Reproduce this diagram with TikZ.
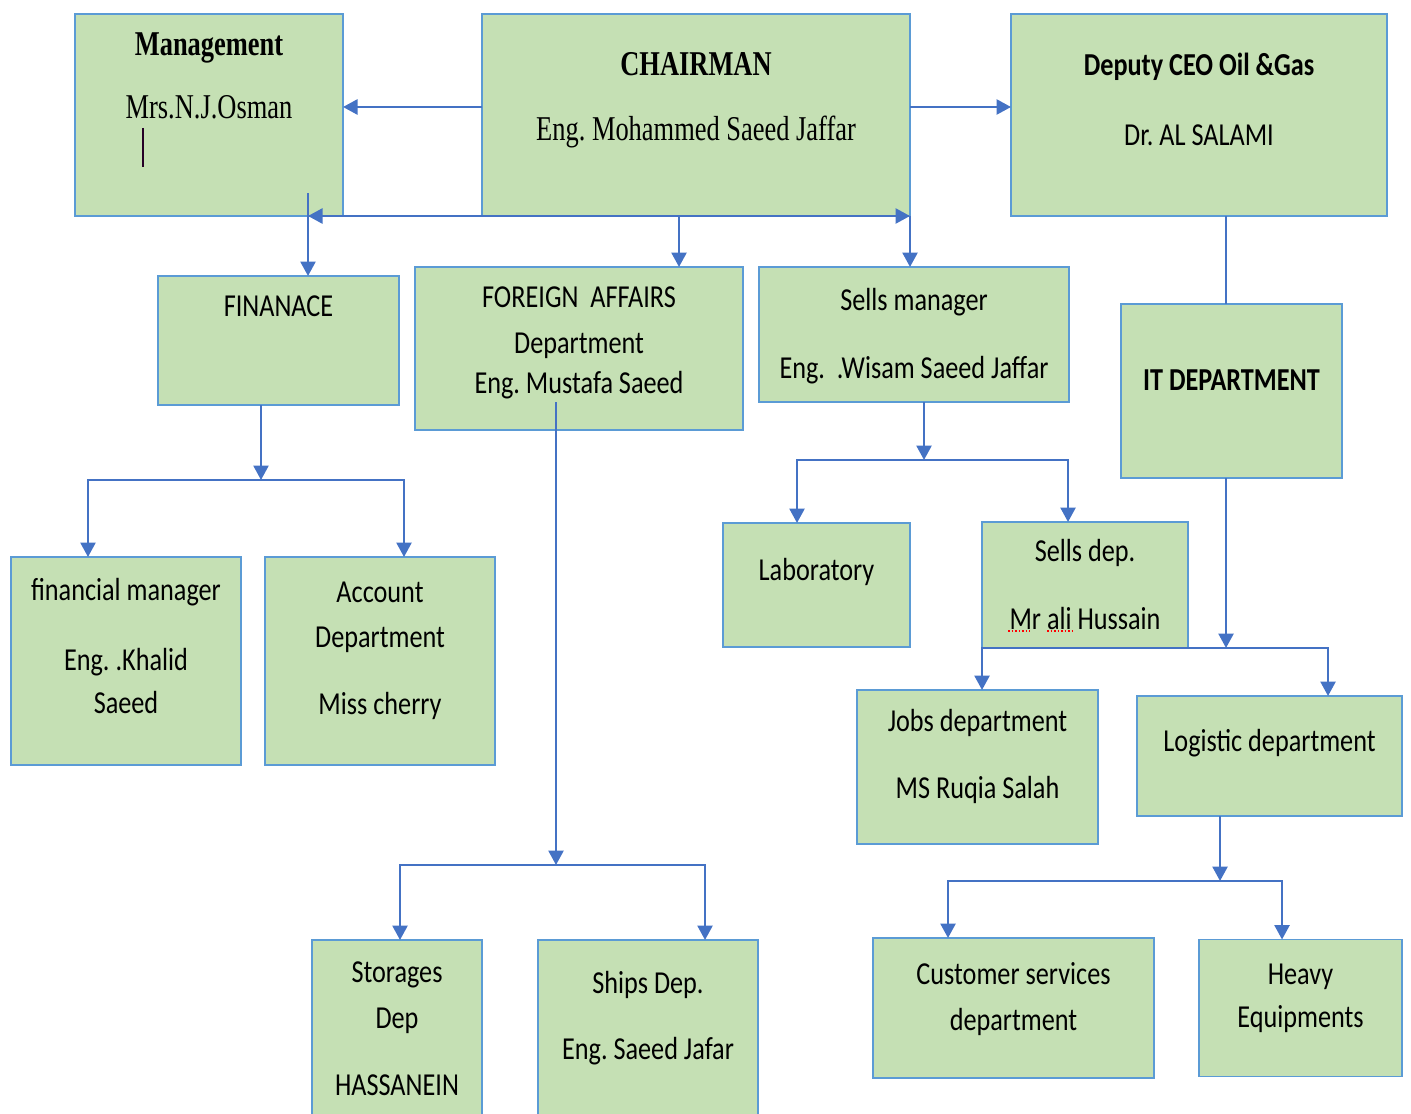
\documentclass[tikz,border=0pt]{standalone}
\usepackage{fontspec}
\setmainfont{Carlito}[FakeStretch=0.82]
\newfontfamily\serifcond{Liberation Serif}[FakeStretch=0.76]
\usepackage{tikz}
\usetikzlibrary{shapes, arrows.meta, positioning}
\usetikzlibrary{calc}
\definecolor{boxgreen}{HTML}{C5E0B4}
\definecolor{boxedge}{HTML}{5B9BD5}
\definecolor{linkblue}{HTML}{4472C4}
\frenchspacing

\begin{document}
\begin{tikzpicture}[
            x=0.2mm, y=-0.2mm,
            box/.style={rectangle, draw=boxedge, fill=boxgreen, line width=1.1pt, inner sep=0pt, outer sep=0pt},
            boxtext/.style={align=center, inner sep=0pt, font=\fontsize{18.2}{22}\selectfont},
            seriftext/.style={align=center, inner sep=0pt, font=\serifcond\fontsize{19.8}{24}\selectfont},
            line/.style={draw=linkblue, line width=1.5pt, -{Triangle[length=2.9mm, width=3mm]}},
            singleline/.style={draw=linkblue, line width=1.5pt, -},
            doubleline/.style={line, {Triangle[length=2.9mm, width=3mm]}-{Triangle[length=2.9mm, width=3mm]}},
        ]
            \useasboundingbox (0,0) rectangle (1411,1113);

            % Top row
            \node[box, minimum width=53.6mm, minimum height=40.4mm,
                label={[seriftext, below=3.6mm]north:{\textbf{Management}\\[11.8pt] Mrs.N.J.Osman}}] (mgmt) at (209,115) {};
            \node[box, minimum width=85.6mm, minimum height=40.4mm, right=27.8mm of mgmt,
                label={[seriftext, below=7.6mm]north:{\textbf{CHAIRMAN}\\[13pt] Eng. Mohammed Saeed Jaffar}}] (chair) {};
            \node[box, minimum width=75.2mm, minimum height=40.4mm, right=20.2mm of chair,
                label={[boxtext, below=7.8mm]north:{\textbf{Deputy CEO Oil \&Gas}\\[17.8pt] Dr. AL SALAMI}}] (deputy) {};

            % Second row
            \node[box, minimum width=48.2mm, minimum height=25.8mm, below=12mm of mgmt, xshift=13.9mm,
                label={[boxtext, below=3.8mm]north:FINANACE}] (finance) {};
            \node[box, minimum width=65.6mm, minimum height=32.6mm, right=3.2mm of finance, yshift=-1.6mm,
                label={[boxtext, below=3.8mm]north:{FOREIGN\ \ AFFAIRS\\[4.2pt] Department\\[0.8pt] Eng. Mustafa Saeed}}] (foreign) {};
            \node[box, minimum width=62mm, minimum height=27mm, right=3.2mm of foreign, yshift=2.8mm,
                label={[boxtext, below=4.2mm]north:{Sells manager\\[16.7pt] Eng.\ \ .Wisam Saeed Jaffar}}] (sellsmgr) {};
            \node[box, minimum width=44.2mm, minimum height=34.8mm, below=17.6mm of deputy, xshift=6.5mm,
                label={[boxtext, below=13mm]north:\textbf{IT DEPARTMENT}}] (it) {};

            % Third row
            \node[box, minimum width=46mm, minimum height=41.6mm, below=30.4mm of finance, xshift=-30.5mm,
                label={[boxtext, below=4.2mm]north:{financial manager\\[17.8pt] Eng. .Khalid\\[2.5pt] Saeed}}] (finmgr) {};
            \node[box, minimum width=46mm, minimum height=41.6mm, right=4.8mm of finmgr,
                label={[boxtext, below=5mm]north:{Account\\[3.6pt] Department\\[16.1pt] Miss cherry}}] (account) {};
            \node[box, minimum width=37.4mm, minimum height=24.8mm, below=24.2mm of sellsmgr, xshift=-19.5mm,
                label={[boxtext, below=7mm]north:Laboratory}] (lab) {};
            \node[box, minimum width=41.2mm, minimum height=25.2mm, right=14.4mm of lab,
                label={[boxtext, below=3.4mm]north:{Sells dep.\\[16.7pt] Mr ali Hussain}}] (sellsdep) {};
            \node[box, minimum width=48.2mm, minimum height=30.8mm, below=8.4mm of sellsdep, xshift=-21.5mm,
                label={[boxtext, below=3.8mm]north:{Jobs department\\[16.1pt] MS Ruqia Salah}}] (jobs) {};
            \node[box, minimum width=53mm, minimum height=24mm, right=7.8mm of jobs, yshift=2.2mm,
                label={[boxtext, below=6.6mm]north:Logistic department}] (logistic) {};

            % Bottom row
            \node[box, minimum width=34mm, minimum height=38mm, below=102mm of foreign, xshift=-36.4mm,
                label={[boxtext, below=4.2mm]north:{Storages\\[4.2pt] Dep\\[16.1pt] HASSANEIN}}] (storages) {};
            \node[box, minimum width=44mm, minimum height=38mm, right=11.2mm of storages,
                label={[boxtext, below=6.2mm]north:{Ships Dep.\\[15.6pt] Eng. Saeed Jafar}}] (ships) {};
            \node[box, minimum width=56.2mm, minimum height=28mm, below=18.8mm of jobs, xshift=7.2mm,
                label={[boxtext, below=4.8mm]north:{Customer services\\[4.2pt] department}}] (customer) {};
            \node[box, minimum width=40.6mm, minimum height=27.4mm, right=9mm of customer,
                label={[boxtext, below=4.8mm]north:{Heavy\\[2.5pt] Equipments}}] (heavy) {};

            % Split points
            \coordinate (finbus) at ([xshift=5.9mm]finance.north |- mgmt.south);
            \coordinate (finsplit) at ([xshift=-3.5mm, yshift=-15mm]finance.south);
            \coordinate (forsplit) at ([xshift=-4.6mm, yshift=15mm]foreign.south |- storages.north);
            \coordinate (sellsplit) at ([xshift=2mm, yshift=-11.6mm]sellsmgr.south);
            \coordinate (itsplit) at ([xshift=-1.1mm]it.south |- sellsdep.south);
            \coordinate (logsplit) at ([xshift=-9.9mm, yshift=-13mm]logistic.south);

            % Connections
            \draw[line] ([yshift=1.6mm]chair.west) -- ([yshift=1.6mm]chair.west -| mgmt.east);
            \draw[line] ([yshift=1.6mm]chair.east) -- ([yshift=1.6mm]chair.east -| deputy.west);
            \draw[doubleline] (finbus) -- (chair.south east);
            \draw[line] ([yshift=4.6mm]finbus) -- ([xshift=5.9mm]finance.north);
            \draw[line] ([xshift=20mm]foreign.north |- chair.south) -- ([xshift=20mm]foreign.north);
            \draw[line] (chair.south east) -- (chair.south east |- sellsmgr.north);
            \draw[singleline] ([xshift=-1.1mm]it.north |- deputy.south) -- ([xshift=-1.1mm]it.north);

            \draw[line] ([xshift=-3.5mm]finance.south) -- (finsplit);
            \draw[line] (finsplit) -| ([xshift=-7.6mm]finmgr.north);
            \draw[line] (finsplit) -| ([xshift=4.8mm]account.north);

            \draw[line] ([xshift=-4.6mm, yshift=5.6mm]foreign.south) -- (forsplit);
            \draw[line] (forsplit) -| ([xshift=0.6mm]storages.north);
            \draw[line] (forsplit) -| ([xshift=11.4mm]ships.north);

            \draw[line] ([xshift=2mm]sellsmgr.south) -- (sellsplit);
            \draw[line] (sellsplit) -| ([xshift=-3.9mm]lab.north);
            \draw[line] (sellsplit) -| ([xshift=-3.4mm]sellsdep.north);

            \draw[line] ([xshift=-1.1mm]it.south) -- (itsplit);
            \draw[line] (itsplit) -| ([xshift=0.9mm]jobs.north);
            \draw[line] (itsplit) -| ([xshift=11.7mm]logistic.north);

            \draw[line] ([xshift=-9.9mm]logistic.south) -- (logsplit);
            \draw[line] (logsplit) -| ([xshift=-13.1mm]customer.north);
            \draw[line] (logsplit) -| ([xshift=-3.7mm]heavy.north);

            % Text cursor and spelling marks
            \draw[line width=0.8pt, black!70!violet] ([shift={(68,114)}]mgmt.north west) -- ++(0,39);
            \draw[red, densely dotted, line width=1pt] ([shift={(26,-17)}]sellsdep.south west) -- ++(22,0);
            \draw[red, densely dotted, line width=1pt] ([shift={(65,-17)}]sellsdep.south west) -- ++(26,0);
        \end{tikzpicture}
\end{document}
